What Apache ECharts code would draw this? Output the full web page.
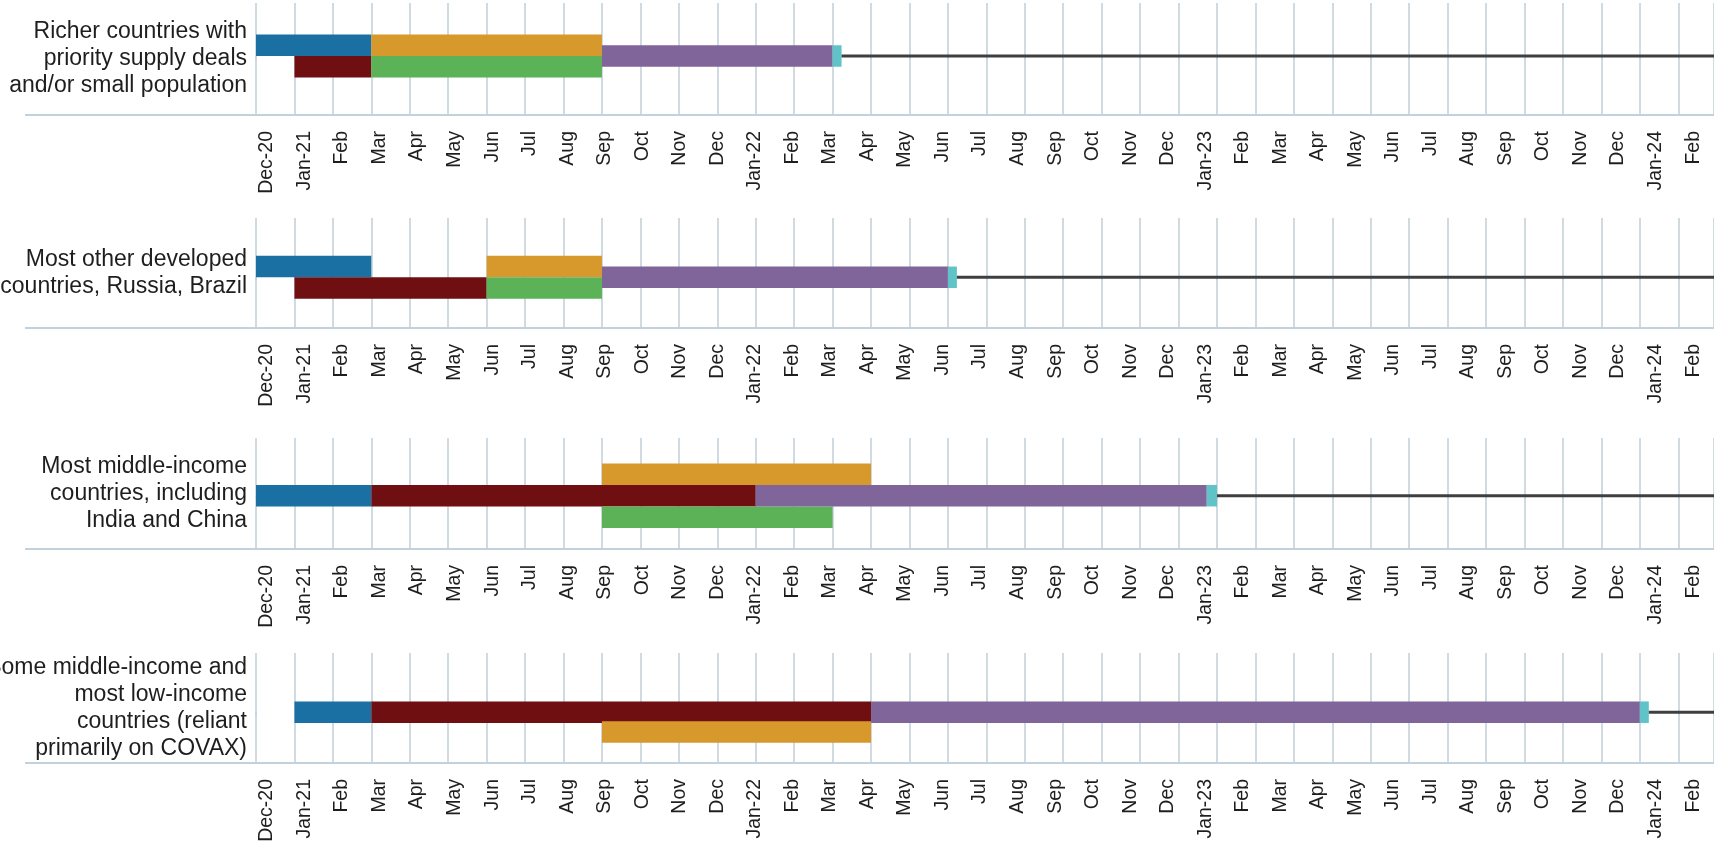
<!DOCTYPE html>
<html>
<head>
<meta charset="utf-8">
<script src="https://cdn.jsdelivr.net/npm/echarts@6/dist/echarts.min.js"></script>
<style>
html,body{margin:0;padding:0;background:#ffffff;}
#chart{width:1714px;height:848px;}
</style>
</head>
<body>
<div id="chart"></div>
<script>
// ---------------- DATA ----------------
const tickLabels = ['Dec-20','Jan-21','Feb','Mar','Apr','May','Jun','Jul','Aug','Sep','Oct','Nov','Dec',
  'Jan-22','Feb','Mar','Apr','May','Jun','Jul','Aug','Sep','Oct','Nov','Dec',
  'Jan-23','Feb','Mar','Apr','May','Jun','Jul','Aug','Sep','Oct','Nov','Dec',
  'Jan-24','Feb'];

const groupLabels = [
  'Richer countries with\npriority supply deals\nand/or small population',
  'Most other developed\ncountries, Russia, Brazil',
  'Most middle-income\ncountries, including\nIndia and China',
  'Some middle-income and\nmost low-income\ncountries (reliant\nprimarily on COVAX)'
];

const stageNames = ['Stage 1','Stage 2','Stage 3','Stage 4','Stage 5','Stage 6'];

// [stage, start, end, track]
const richerBars = [
  ['Stage 1','2020-12','2021-03','upper'],
  ['Stage 2','2021-01','2021-03','lower'],
  ['Stage 3','2021-03','2021-09','upper'],
  ['Stage 4','2021-03','2021-09','lower'],
  ['Stage 5','2021-09','2022-03','main'],
  ['Stage 6','2022-03','2022-03-08','main']
];
const developedBars = [
  ['Stage 1','2020-12','2021-03','upper'],
  ['Stage 2','2021-01','2021-06','lower'],
  ['Stage 3','2021-06','2021-09','upper'],
  ['Stage 4','2021-06','2021-09','lower'],
  ['Stage 5','2021-09','2022-06','main'],
  ['Stage 6','2022-06','2022-06-08','main']
];
const middleBars = [
  ['Stage 1','2020-12','2021-03','main'],
  ['Stage 2','2021-03','2022-01','main'],
  ['Stage 3','2021-09','2022-04','upper'],
  ['Stage 4','2021-09','2022-03','lower'],
  ['Stage 5','2022-01','2022-12-23','main'],
  ['Stage 6','2022-12-23','2023-01','main']
];
const covaxBars = [
  ['Stage 1','2021-01','2021-03','main'],
  ['Stage 2','2021-03','2022-04','main'],
  ['Stage 3','2021-09','2022-04','lower'],
  ['Stage 5','2022-04','2023-12','main'],
  ['Stage 6','2023-12','2023-12-08','main']
];
const groupBars = [richerBars, developedBars, middleBars, covaxBars];

// ---------------- STYLE / LAYOUT ----------------
const stageColors = ['#1a6fa3','#700f12','#d8992c','#5cb257','#7f6599','#5fc3c8'];
const W = 1714;
const panelTop = [3, 218, 438, 653];
const panelBottom = [115, 328, 549, 763];
const laneZero = [56, 277.3, 495.7, 712.2];
const trackOffset = [0.5, 0.5, 1, 0.92];
const laneH = 21.5;
const barLeft = 256, monthW = 38.44;
const labelFirst = 267, labelStep = 37.53;
const frameLeft = 26;
const gridColor = '#c3d1da';
const textColor = '#1e1e1e';
const xMax = (W - barLeft) / monthW;

function monthIndex(s) {
  const p = s.split('-');
  const y = +p[0], m = +p[1], d = p[2] ? +p[2] : 1;
  return (y - 2020) * 12 + (m - 12) + (d - 1) / 30;
}

const grids = [], xAxes = [], yAxes = [], series = [];

groupBars.forEach((bars, p) => {
  const top = panelTop[p], bottom = panelBottom[p], h = bottom - top;
  const g0 = grids.length;
  // bars grid
  grids.push({left: barLeft, right: 0, top: top, height: h, outerBoundsMode: 'none', containLabel: false});
  // frame grid
  grids.push({left: frameLeft, right: 0, top: top, height: h, outerBoundsMode: 'none', containLabel: false});
  // label grid
  const lLeft = labelFirst - labelStep / 2;
  grids.push({left: lLeft, width: labelStep * tickLabels.length, top: top, height: h, outerBoundsMode: 'none', containLabel: false});

  const x0 = xAxes.length;
  xAxes.push({
    type: 'value', gridIndex: g0, min: 0, max: xMax, interval: 1,
    axisLine: {show: false},
    axisTick: {show: true, length: 3, lineStyle: {color: gridColor, width: 1.6}},
    axisLabel: {show: false},
    splitLine: {show: true, lineStyle: {color: gridColor, width: 1.6}}
  });
  ['top','bottom'].forEach(pos => xAxes.push({
    type: 'value', gridIndex: g0 + 1, position: pos, min: 0, max: 1,
    axisLine: {show: true, lineStyle: {color: gridColor, width: 2}},
    axisTick: {show: false}, axisLabel: {show: false}, splitLine: {show: false}
  }));
  xAxes.push({
    type: 'category', gridIndex: g0 + 2, data: tickLabels, boundaryGap: true,
    axisLine: {show: false}, axisTick: {show: false}, splitLine: {show: false},
    axisLabel: {interval: 0, rotate: 90, margin: 16, fontSize: 19.5,
      fontFamily: '"Liberation Sans", Arial, sans-serif', color: textColor}
  });

  const y0 = yAxes.length;
  yAxes.push({
    type: 'value', gridIndex: g0, inverse: true,
    min: -(laneZero[p] - top) / laneH, max: (bottom - laneZero[p]) / laneH,
    axisLine: {show: false}, axisTick: {show: false}, axisLabel: {show: false}, splitLine: {show: false},
    name: groupLabels[p], nameLocation: 'middle', nameRotate: 0, nameGap: 9,
    nameTextStyle: {align: 'right', verticalAlign: 'middle', fontSize: 23, lineHeight: 27,
      fontFamily: '"Liberation Sans", Arial, sans-serif', color: textColor}
  });
  yAxes.push({type: 'value', gridIndex: g0 + 1, show: false, min: 0, max: 1});
  yAxes.push({type: 'value', gridIndex: g0 + 2, show: false, min: 0, max: 1});

  const off = trackOffset[p];
  const trackVal = {upper: -off, main: 0, lower: off};
  const data = bars.map(b => [monthIndex(b[1]), monthIndex(b[2]), trackVal[b[3]], stageNames.indexOf(b[0])]);
  series.push({
    type: 'custom', xAxisIndex: x0, yAxisIndex: y0, silent: true,
    encode: {x: [0, 1], y: 2},
    data: data,
    renderItem: function (params, api) {
      const s = api.coord([api.value(0), api.value(2)]);
      const e = api.coord([api.value(1), api.value(2)]);
      const hh = api.size([0, 1])[1];
      return {type: 'rect', shape: {x: s[0], y: s[1] - hh / 2, width: e[0] - s[0], height: hh},
        style: {fill: stageColors[api.value(3)]}};
    }
  });
  const lastEnd = Math.max.apply(null, bars.map(b => monthIndex(b[2])));
  series.push({
    type: 'line', xAxisIndex: x0, yAxisIndex: y0, silent: true, symbol: 'none',
    data: [[lastEnd, 0], [xMax, 0]],
    lineStyle: {color: '#3f3f3f', width: 3}
  });
});

const chart = echarts.init(document.getElementById('chart'), null, {renderer: 'canvas'});
chart.setOption({
  backgroundColor: '#ffffff',
  animation: false,
  grid: grids,
  xAxis: xAxes,
  yAxis: yAxes,
  series: series
});
</script>
</body>
</html>
